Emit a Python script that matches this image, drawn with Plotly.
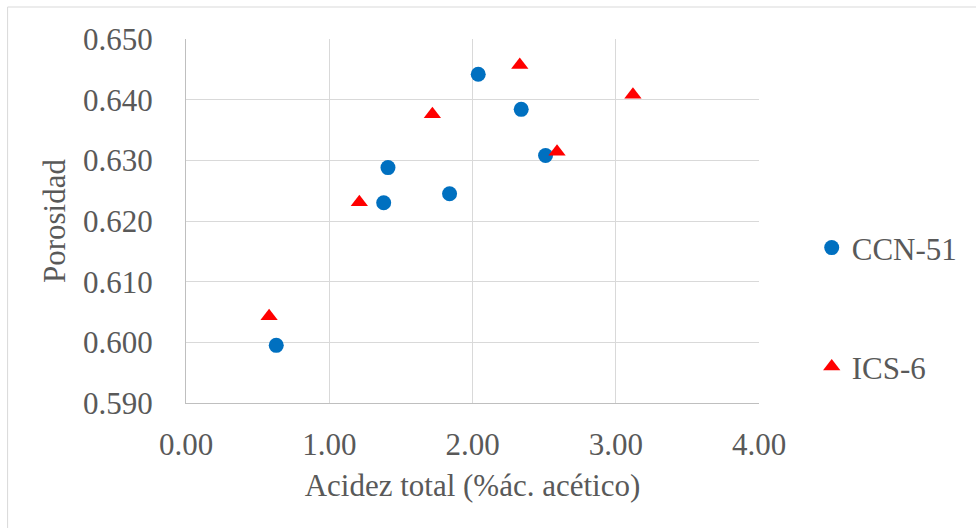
import plotly.graph_objects as go

# Acidez total (% ácido acético) vs porosidad para dos clones de cacao
ccn51_acidez = [0.63, 1.38, 1.41, 1.84, 2.04, 2.34, 2.51]
ccn51_porosidad = [0.5995, 0.6230, 0.6288, 0.6245, 0.6442, 0.6384, 0.6308]

ics6_acidez = [0.58, 1.21, 1.72, 2.33, 2.59, 3.12]
ics6_porosidad = [0.6043, 0.6231, 0.6376, 0.6457, 0.6314, 0.6408]

x_ticks = [0, 1, 2, 3, 4]
x_tick_text = ["0.00", "1.00", "2.00", "3.00", "4.00"]
y_ticks = [0.590, 0.600, 0.610, 0.620, 0.630, 0.640, 0.650]
y_tick_text = ["0.590", "0.600", "0.610", "0.620", "0.630", "0.640", "0.650"]

FONT = "Liberation Serif, Times New Roman, serif"
TEXT = "#595959"
GRID = "#d9d9d9"
AXIS = "#bfbfbf"

fig = go.Figure()
fig.add_trace(go.Scatter(
    x=ccn51_acidez, y=ccn51_porosidad, mode="markers", name="CCN-51",
    marker=dict(symbol="circle", size=15, color="#0070C0"),
    legend="legend",
))
fig.add_trace(go.Scatter(
    x=ics6_acidez, y=ics6_porosidad, mode="markers", name="ICS-6",
    marker=dict(symbol="triangle-up", size=15, color="#FF0000"),
    legend="legend2",
))

legend_style = dict(
    font=dict(family=FONT, size=31, color=TEXT),
    bgcolor="rgba(0,0,0,0)", xref="paper", yref="paper",
    xanchor="left", yanchor="middle", x=1.092,
    itemwidth=30,
)

fig.update_layout(
    width=976, height=528,
    margin=dict(l=186, r=217, t=39, b=125),
    paper_bgcolor="white", plot_bgcolor="white",
    font=dict(family=FONT, size=31, color=TEXT),
    showlegend=True,
    legend=dict(legend_style, y=0.426),
    legend2=dict(legend_style, y=0.099),
    xaxis=dict(
        range=[0, 4], tickvals=x_ticks, ticktext=x_tick_text,
        showgrid=True, gridcolor=GRID, gridwidth=1,
        showline=True, linecolor=AXIS, linewidth=1,
        zeroline=False, ticks="", ticklabelstandoff=14,
        tickfont=dict(family=FONT, size=31, color=TEXT),
        title=dict(text="Acidez total (%ác. acético)", standoff=13,
                   font=dict(family=FONT, size=31, color=TEXT)),
    ),
    yaxis=dict(
        range=[0.590, 0.650], tickvals=y_ticks, ticktext=y_tick_text,
        showgrid=True, gridcolor=GRID, gridwidth=1,
        showline=True, linecolor=AXIS, linewidth=1,
        zeroline=False, ticks="", ticklabelstandoff=26,
        tickfont=dict(family=FONT, size=31, color=TEXT),
        title=dict(text="Porosidad", standoff=8,
                   font=dict(family=FONT, size=31, color=TEXT)),
    ),
    shapes=[dict(
        type="rect", xref="paper", yref="paper",
        x0=(7.5 - 186) / 573.3, x1=(985 - 186) / 573.3,
        y0=(403 - 540) / 364, y1=(403 - 7) / 364,
        line=dict(color=GRID, width=1), fillcolor="rgba(0,0,0,0)",
        layer="below",
    )],
)

fig.write_html("out.html")
